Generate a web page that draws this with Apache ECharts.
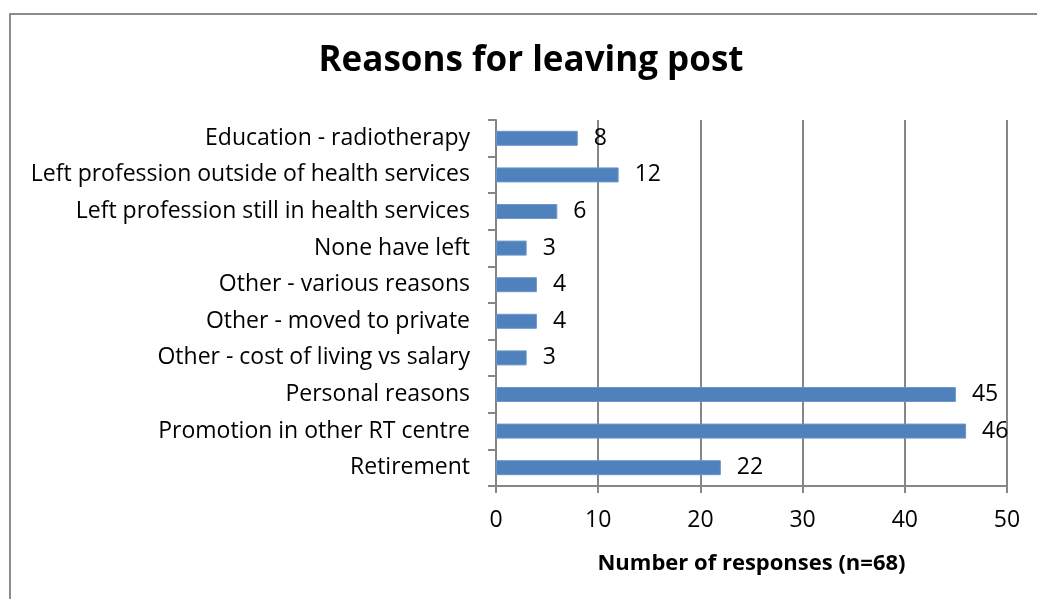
<!DOCTYPE html>
<html>
<head>
<meta charset="utf-8">
<script src="https://cdn.jsdelivr.net/npm/echarts@6/dist/echarts.min.js"></script>
<style>html,body{margin:0;padding:0;background:#fff}#c{width:1037px;height:599px}</style>
</head>
<body>
<div id="c"></div>
<script>
const categories = [
  'Education - radiotherapy',
  'Left profession outside of health services',
  'Left profession still in health services',
  'None have left',
  'Other - various reasons',
  'Other - moved to private',
  'Other - cost of living vs salary',
  'Personal reasons',
  'Promotion in other RT centre',
  'Retirement'
];
const values = [8, 12, 6, 3, 4, 4, 3, 45, 46, 22];
const xTicks = [0, 10, 20, 30, 40, 50];

const FONT = 'Open Sans';
const chart = echarts.init(document.getElementById('c'), null, {renderer: 'canvas'});
chart.setOption({
  animation: false,
  backgroundColor: '#fff',
  title: {
    text: 'Reasons for leaving post',
    left: 526, top: 39, textAlign: 'center',
    textStyle: {fontFamily: FONT, fontSize: 35, fontWeight: 'bold', color: '#000'}
  },
  graphic: [{
    type: 'rect', silent: true,
    shape: {x: 10, y: 14, width: 1200, height: 800},
    style: {fill: 'none', stroke: '#8c8c8c', lineWidth: 2}
  }],
  grid: {left: 496, right: 30, top: 120, bottom: 113, containLabel: false},
  xAxis: {
    type: 'value', min: xTicks[0], max: xTicks[xTicks.length - 1], interval: 10,
    name: 'Number of responses (n=68)', nameLocation: 'middle', nameGap: 67,
    nameTextStyle: {fontFamily: FONT, fontSize: 22, fontWeight: 'bold', color: '#000'},
    axisLine: {show: true, lineStyle: {color: '#868686', width: 2}},
    axisTick: {show: true, length: 7, lineStyle: {color: '#868686', width: 2}},
    axisLabel: {fontFamily: FONT, fontSize: 23, color: '#000', margin: 23},
    splitLine: {show: true, lineStyle: {color: '#868686', width: 2}}
  },
  yAxis: {
    type: 'category', data: categories, inverse: true,
    axisLine: {show: true, lineStyle: {color: '#868686', width: 2}},
    axisTick: {show: true, length: 8, alignWithLabel: false, lineStyle: {color: '#868686', width: 2}},
    axisLabel: {fontFamily: FONT, fontSize: 23, color: '#000', margin: 26},
    splitLine: {show: false}
  },
  series: [{
    type: 'bar', data: values, barWidth: 15,
    itemStyle: {color: '#4f81bd', borderColor: '#6a96cc', borderWidth: 1},
    label: {show: true, position: 'right', distance: 16,
      fontFamily: FONT, fontSize: 23, color: '#000'}
  }]
});
</script>
</body>
</html>
